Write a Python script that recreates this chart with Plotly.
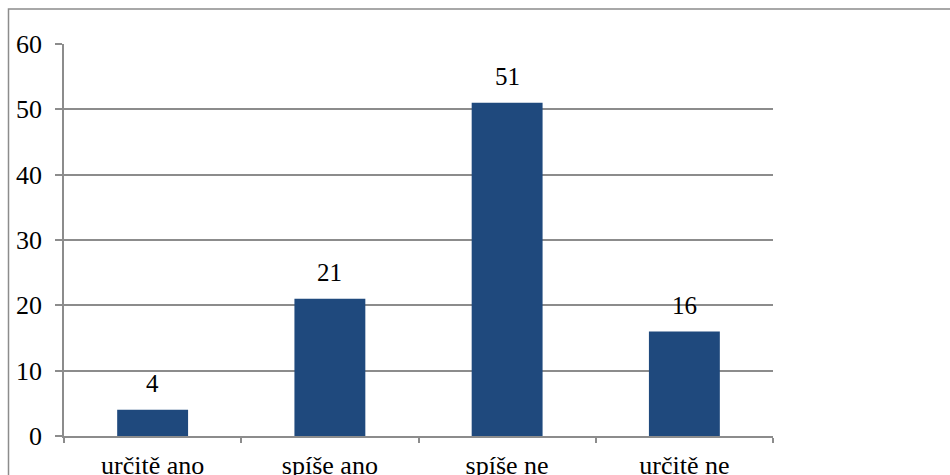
import plotly.graph_objects as go

categories = ["určitě ano", "spíše ano", "spíše ne", "určitě ne"]
values = [4, 21, 51, 16]
y_ticks = [0, 10, 20, 30, 40, 50, 60]

BAR = "#1F497D"
GRID = "#8C8C8C"
FONT = "Times New Roman, Liberation Serif, serif"
FS = 26

W, H = 950, 475
L, R, T, B = 64, 177, 44, 39
pw, ph = W - L - R, H - T - B

fig = go.Figure(
    go.Bar(
        x=categories,
        y=values,
        marker=dict(color=BAR, line=dict(width=0)),
        width=0.4,
    )
)

# value labels floating above each bar
for c, v in zip(categories, values):
    fig.add_annotation(
        x=c, y=v, text=str(v), showarrow=False,
        yanchor="middle", yshift=26,
        font=dict(family=FONT, size=FS - 1, color="black"),
    )

# outer chart frame
fx0 = (8.5 - L) / pw
fy1 = 1 + (T - 9) / ph
fig.add_shape(
    type="rect", xref="paper", yref="paper",
    x0=fx0, x1=1.5, y0=-0.5, y1=fy1,
    line=dict(color=GRID, width=1.5), fillcolor="rgba(0,0,0,0)",
    layer="below",
)

fig.update_layout(
    width=W, height=H,
    margin=dict(l=L, r=R, t=T, b=B, autoexpand=False),
    paper_bgcolor="white", plot_bgcolor="white",
    showlegend=False,
    font=dict(family=FONT, size=FS, color="black"),
    xaxis=dict(
        showgrid=False, showline=True, linecolor=GRID, linewidth=1.5,
        ticks="outside", ticklen=5, tickcolor=GRID, tickwidth=1.5,
        tickson="boundaries", ticklabelstandoff=5, automargin=False,
        tickfont=dict(family=FONT, size=FS, color="black"),
    ),
    yaxis=dict(
        range=[0, 60], tickvals=y_ticks,
        showgrid=True, gridcolor=GRID, gridwidth=1.5,
        showline=True, linecolor=GRID, linewidth=1.5,
        ticks="outside", ticklen=7, tickcolor=GRID, tickwidth=1.5,
        ticklabelstandoff=8, zeroline=False, automargin=False,
        tickfont=dict(family=FONT, size=FS, color="black"),
    ),
)

fig.write_html("out.html")
